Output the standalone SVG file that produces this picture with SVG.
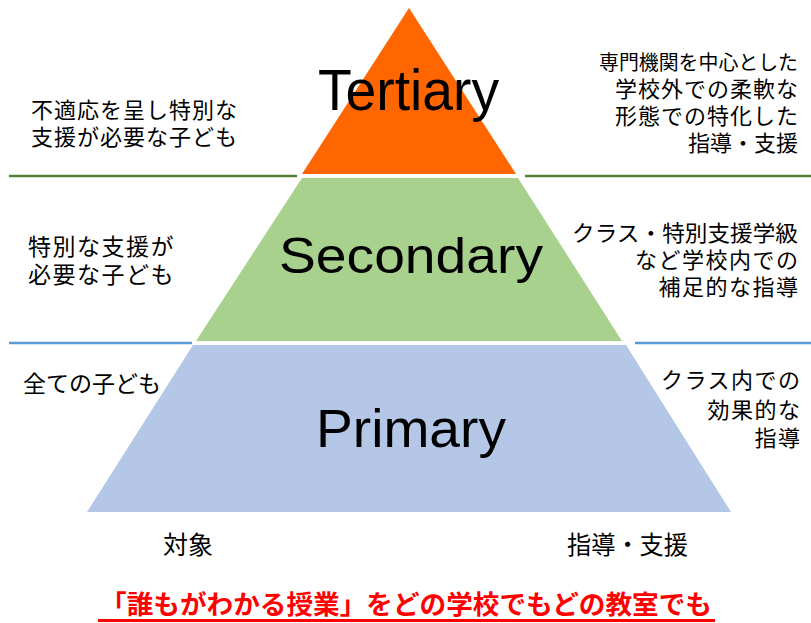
<svg xmlns="http://www.w3.org/2000/svg" width="811" height="623" viewBox="0 0 811 623">
<style>
.lat{font-family:"Liberation Sans",Arial,sans-serif;fill:#000}
.jp{font-family:"Liberation Sans","Noto Sans CJK JP",sans-serif;fill:#000}
.s21{font-size:22px;letter-spacing:1px}
.s22{font-size:22px;letter-spacing:1.5px}
.s23{font-size:23px;letter-spacing:1.5px}
.s25{font-size:25px}
.gline{stroke:#548235;stroke-width:2.5;fill:none}
.bline{stroke:#5b9bd5;stroke-width:2.5;fill:none}
</style>
<rect width="811" height="623" fill="#ffffff"/>
<g id="dividers">
<line class="gline" x1="9" y1="176" x2="297" y2="176"/>
<line class="gline" x1="525" y1="176" x2="811" y2="176"/>
<line class="bline" x1="9" y1="343" x2="192" y2="343"/>
<line class="bline" x1="635" y1="343" x2="811" y2="343"/>
</g>
<g id="tertiary">
<polygon points="409,8 516,174 302,174" fill="#ff6600"/>
<text class="lat" x="318" y="110" font-size="58" textLength="181" lengthAdjust="spacingAndGlyphs">Tertiary</text>
</g>
<g id="secondary">
<polygon points="302,178 518,178 622,341 196,341" fill="#a9d18e"/>
<text class="lat" x="279" y="273" font-size="50" textLength="264" lengthAdjust="spacingAndGlyphs">Secondary</text>
</g>
<g id="primary">
<polygon points="193,345 626,345 731,512 87,512" fill="#b4c7e7"/>
<text class="lat" x="316" y="447" font-size="54" textLength="190" lengthAdjust="spacingAndGlyphs">Primary</text>
</g>
<g id="target-tertiary">
<text class="jp s21" x="31" y="118">不適応を呈し特別な</text>
<text class="jp s21" x="31" y="145">支援が必要な子ども</text>
</g>
<g id="support-tertiary">
<text class="jp" x="599" y="70" font-size="20" textLength="199" lengthAdjust="spacingAndGlyphs">専門機関を中心とした</text>
<text class="jp s21" x="799" y="97" text-anchor="end">学校外での柔軟な</text>
<text class="jp s21" x="799" y="124" text-anchor="end">形態での特化した</text>
<text class="jp" x="688" y="151" font-size="22" textLength="110" lengthAdjust="spacingAndGlyphs">指導・支援</text>
</g>
<g id="target-secondary">
<text class="jp s23" x="28" y="255">特別な支援が</text>
<text class="jp s23" x="28" y="283">必要な子ども</text>
</g>
<g id="support-secondary">
<text class="jp" x="572" y="241" font-size="22" textLength="226" lengthAdjust="spacingAndGlyphs">クラス・特別支援学級</text>
<text class="jp s22" x="799.5" y="268" text-anchor="end">など学校内での</text>
<text class="jp s22" x="799.5" y="295" text-anchor="end">補足的な指導</text>
</g>
<g id="target-primary">
<text class="jp" x="23" y="392" font-size="23">全ての子ども</text>
</g>
<g id="support-primary" text-anchor="end">
<text class="jp s22" x="801.5" y="388">クラス内での</text>
<text class="jp s22" x="801.5" y="418">効果的な</text>
<text class="jp s22" x="801.5" y="446">指導</text>
</g>
<g id="label-target">
<text class="jp s25" x="163" y="554">対象</text>
</g>
<g id="label-support">
<text class="jp s25" x="567" y="554" textLength="121" lengthAdjust="spacingAndGlyphs">指導・支援</text>
</g>
<g id="slogan">
<text x="100" y="614" font-family="'Liberation Sans','Noto Sans CJK JP',sans-serif" font-size="26" font-weight="bold" fill="#ff0000" textLength="612" lengthAdjust="spacingAndGlyphs">「誰もがわかる授業」をどの学校でもどの教室でも</text>
<line x1="98" y1="620.5" x2="715" y2="620.5" stroke="#ff0000" stroke-width="3"/>
</g>
</svg>
